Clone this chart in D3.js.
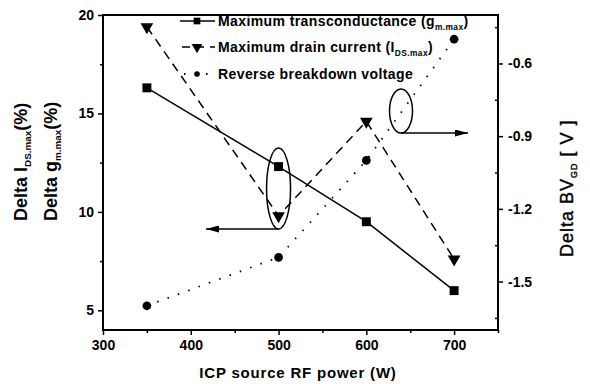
<!DOCTYPE html>
<html><head><meta charset="utf-8">
<script src="https://cdn.jsdelivr.net/npm/d3@7"></script>
<style>
body{margin:0;background:#fff;}
text{font-family:"Liberation Sans",Arial,sans-serif;fill:#000;}
</style></head>
<body><svg id="c" width="590" height="384"></svg>
<script>
const power = [350, 500, 600, 700];
const gmMax = [16.3, 12.3, 9.5, 6.0];
const idsMax = [19.4, 9.8, 14.6, 7.6];
const bvGD = [-1.60, -1.40, -1.00, -0.50];
const xTicks = [300, 400, 500, 600, 700];
const xMinor = [350, 450, 550, 650, 750];
const yLTicks = [5, 10, 15, 20];
const yLMinor = [7.5, 12.5, 17.5];
const yRTicks = [-1.5, -1.2, -0.9, -0.6];
const yRMinor = [-1.65, -1.35, -1.05, -0.75, -0.45];

const svg = d3.select("#c");
const L = 103, R = 498, T = 15, B = 330;
const x = d3.scaleLinear().domain([300, 750]).range([L, R]);
const yL = d3.scaleLinear().domain([4, 20]).range([B, T]);
const yR = d3.scaleLinear().domain([-1.7, -0.4]).range([B, T]);

// frame
svg.append("rect").attr("x", L).attr("y", T).attr("width", R - L).attr("height", B - T)
  .attr("fill", "none").attr("stroke", "#000").attr("stroke-width", 2);

// axes
const fmt = d => d;
svg.append("g").attr("transform", `translate(0,${B})`)
  .call(d3.axisBottom(x).tickValues(xTicks).tickSize(5).tickPadding(5).tickFormat(fmt));
svg.append("g").attr("transform", `translate(0,${B})`)
  .call(d3.axisBottom(x).tickValues(xMinor).tickSize(3).tickFormat(""));
svg.append("g").attr("transform", `translate(${L},0)`)
  .call(d3.axisLeft(yL).tickValues(yLTicks).tickSize(5).tickPadding(4).tickFormat(fmt));
svg.append("g").attr("transform", `translate(${L},0)`)
  .call(d3.axisLeft(yL).tickValues(yLMinor).tickSize(3).tickFormat(""));
const yRAx = svg.append("g").attr("transform", `translate(${R},0)`)
  .call(d3.axisRight(yR).tickValues(yRTicks).tickSize(5).tickPadding(5).tickFormat(d3.format(".1f")));
svg.append("g").attr("transform", `translate(${R},0)`)
  .call(d3.axisRight(yR).tickValues(yRMinor).tickSize(-3).tickFormat(""));
svg.selectAll(".domain").remove();
svg.selectAll(".tick line").attr("stroke", "#000").attr("stroke-width", 1.5);
svg.selectAll(".tick text").attr("font-size", 14).attr("font-weight", "bold")
  .attr("font-family", "Liberation Sans, Arial, sans-serif").attr("fill", "#000");
yRAx.selectAll(".tick text").text(d => d3.format(".1f")(d).replace("−", "-"));

// lines
const lineL = d3.line().x((d, i) => x(power[i])).y(d => yL(d));
const lineR = d3.line().x((d, i) => x(power[i])).y(d => yR(d));
svg.append("path").attr("d", lineL(gmMax)).attr("fill", "none").attr("stroke", "#000").attr("stroke-width", 1.5);
svg.append("path").attr("d", lineL(idsMax)).attr("fill", "none").attr("stroke", "#000").attr("stroke-width", 1.5).attr("stroke-dasharray", "9,6");
svg.append("path").attr("d", lineR(bvGD)).attr("fill", "none").attr("stroke", "#000").attr("stroke-width", 1.8).attr("stroke-dasharray", "1.5,9.5");

// markers
const sq = d3.symbol().type(d3.symbolSquare).size(80);
const tri = d3.symbol().type(d3.symbolTriangle).size(70);
const cir = d3.symbol().type(d3.symbolCircle).size(60);
svg.selectAll(".sq").data(gmMax).join("path").attr("d", sq)
  .attr("transform", (d, i) => `translate(${x(power[i])},${yL(d)})`);
svg.selectAll(".tri").data(idsMax).join("path").attr("d", tri)
  .attr("transform", (d, i) => `translate(${x(power[i])},${yL(d)}) rotate(180)`);
svg.selectAll(".cir").data(bvGD).join("path").attr("d", cir)
  .attr("transform", (d, i) => `translate(${x(power[i])},${yR(d)})`);

// ellipses and arrows
svg.append("defs").append("marker").attr("id", "ah").attr("viewBox", "0 0 13 7")
  .attr("refX", 13).attr("refY", 3.5).attr("markerWidth", 13).attr("markerHeight", 7)
  .attr("markerUnits", "userSpaceOnUse").attr("orient", "auto")
  .append("path").attr("d", "M0,0L13,3.5L0,7Z").attr("fill", "#000");
const e1x = x(500), e1y = 188.5;
svg.append("ellipse").attr("cx", e1x).attr("cy", e1y).attr("rx", 12).attr("ry", 40.5)
  .attr("fill", "none").attr("stroke", "#000").attr("stroke-width", 1.5);
svg.append("line").attr("x1", e1x).attr("y1", e1y + 40.5).attr("x2", 206).attr("y2", e1y + 40.5)
  .attr("stroke", "#000").attr("stroke-width", 1.5).attr("marker-end", "url(#ah)");
const e2x = 401, e2y = 111;
svg.append("ellipse").attr("cx", e2x).attr("cy", e2y).attr("rx", 11.5).attr("ry", 22)
  .attr("fill", "none").attr("stroke", "#000").attr("stroke-width", 1.5);
svg.append("line").attr("x1", e2x).attr("y1", e2y + 22).attr("x2", 468).attr("y2", e2y + 22)
  .attr("stroke", "#000").attr("stroke-width", 1.5).attr("marker-end", "url(#ah)");

// legend
const legY = [21, 47, 74];
const legX0 = 180, legX1 = 215, legM = 197, legT = 218;
svg.append("line").attr("x1", legX0).attr("x2", legX1).attr("y1", legY[0]).attr("y2", legY[0]).attr("stroke", "#000").attr("stroke-width", 1.5);
svg.append("line").attr("x1", legX0).attr("x2", legX1).attr("y1", legY[1]).attr("y2", legY[1]).attr("stroke", "#000").attr("stroke-width", 1.5).attr("stroke-dasharray", "8,6").attr("stroke-dashoffset", -2);
svg.append("line").attr("x1", legX0 + 4).attr("x2", legX1).attr("y1", legY[2]).attr("y2", legY[2]).attr("stroke", "#000").attr("stroke-width", 1.8).attr("stroke-dasharray", "1.5,9.5");
svg.append("path").attr("d", d3.symbol().type(d3.symbolSquare).size(45)).attr("transform", `translate(${legM},${legY[0]})`);
svg.append("path").attr("d", d3.symbol().type(d3.symbolTriangle).size(50)).attr("transform", `translate(${legM},${legY[1]}) rotate(180)`);
svg.append("path").attr("d", d3.symbol().type(d3.symbolCircle).size(25)).attr("transform", `translate(${legM},${legY[2]})`);

function rich(sel, parts, size, subRatio) {
  parts.forEach(p => {
    const t = sel.append("tspan").text(p.t);
    if (p.sub) t.attr("font-size", size * (subRatio || 0.55)).attr("dy", 4);
    else if (p.back) t.attr("dy", -4);
  });
}
const lg = [
  [{t: "Maximum transconductance (g"}, {t: "m.max", sub: 1}, {t: ")", back: 1}],
  [{t: "Maximum drain current (I"}, {t: "DS.max", sub: 1}, {t: ")", back: 1}],
  [{t: "Reverse breakdown voltage"}]
];
lg.forEach((parts, i) => {
  const t = svg.append("text").attr("x", legT).attr("y", legY[i] + 5).attr("font-size", 14)
    .attr("font-weight", "bold").attr("letter-spacing", 0.4);
  rich(t, parts, 14, 0.6);
});

// axis titles
svg.append("text").attr("x", 298).attr("y", 378).attr("text-anchor", "middle")
  .attr("font-size", 15).attr("font-weight", "bold").attr("letter-spacing", 0.8).text("ICP source RF power (W)");
const lt1 = svg.append("text").attr("transform", "translate(27,221) rotate(-90)").attr("font-size", 18).attr("font-weight", "bold");
rich(lt1, [{t: "Delta I"}, {t: "DS.max", sub: 1}, {t: "(%)", back: 1}], 18);
const lt2 = svg.append("text").attr("transform", "translate(57,221) rotate(-90)").attr("font-size", 18).attr("font-weight", "bold");
rich(lt2, [{t: "Delta g"}, {t: "m.max", sub: 1}, {t: "(%)", back: 1}], 18);
const rt = svg.append("text").attr("transform", "translate(573,257) rotate(-90)").attr("font-size", 18)
  .attr("stroke", "#000").attr("stroke-width", 0.4).attr("letter-spacing", 1);
rich(rt, [{t: "Delta BV"}, {t: "GD", sub: 1}, {t: "  [ V ]", back: 1}], 18, 0.5);
</script></body></html>
